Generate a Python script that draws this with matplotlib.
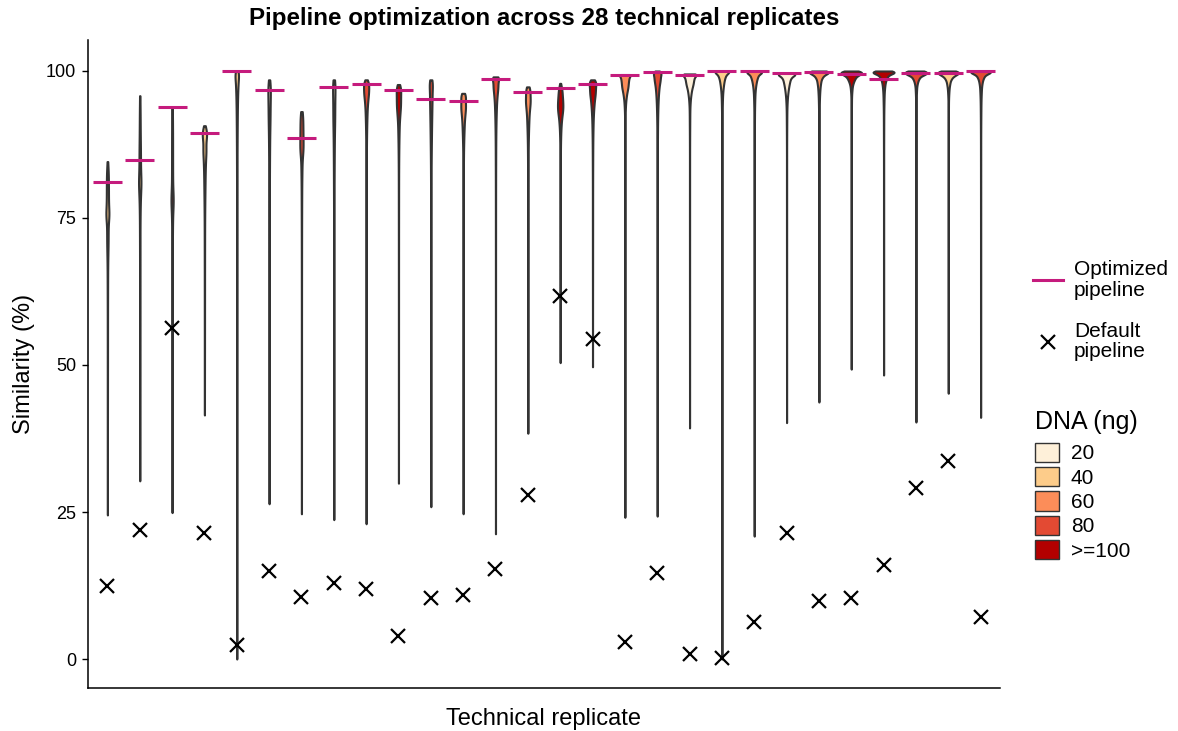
import numpy as np
import matplotlib
matplotlib.use("Agg")
import matplotlib.pyplot as plt
from matplotlib.lines import Line2D
from matplotlib.patches import Patch

plt.rcParams['font.family'] = ['Liberation Sans', 'DejaVu Sans']

# ---------------- data ----------------
replicates = list(range(1, 29))
optimized = [81.1, 84.8, 93.9, 89.5, 100.0, 96.7, 88.6, 97.3, 97.8, 96.7,
             95.2, 94.9, 98.6, 96.5, 97.1, 97.8, 99.4, 99.8, 99.3, 100.0,
             100.0, 99.6, 99.9, 99.5, 98.6, 99.7, 99.7, 100.0]
default = [12.4, 21.9, 56.3, 21.4, 2.3, 15.0, 10.5, 12.9, 11.9, 3.9,
           10.4, 10.9, 15.3, 27.9, 61.8, 54.4, 2.9, 14.6, 0.9, 0.2,
           6.3, 21.4, 9.9, 10.4, 16.0, 29.1, 33.7, 7.1]
sim_min = [24.5, 30.3, 24.9, 41.5, 0.0, 26.4, 24.7, 23.7, 23.0, 29.9,
           25.9, 24.7, 21.3, 38.4, 50.4, 49.7, 24.1, 24.3, 39.3, 0.0,
           20.9, 40.2, 43.7, 49.3, 48.3, 40.3, 45.2, 41.1]
sim_max = [84.6, 95.8, 93.8, 90.7, 100.0, 98.5, 93.1, 98.5, 98.5, 97.7,
           98.5, 96.2, 99.0, 97.3, 97.9, 98.5, 99.4, 100.0, 99.5, 100.0,
           100.0, 99.7, 100.0, 100.0, 100.0, 100.0, 100.0, 100.0]
dna_group = ['40', '40', '>=100', '40', '40', '20', '80', '20', '80', '>=100',
             '80', '60', '80', '60', '>=100', '>=100', '60', '80', '20', '40',
             '60', '20', '60', '>=100', '>=100', '80', '40', '80']
# representative similarity values (deciles) per replicate, read from the shapes
sim_samples = [
    [50, 62, 68, 71, 74, 75.5, 77, 79, 81, 83],
    [45, 60, 70, 76, 79, 81, 83, 86, 89, 93],
    [40, 55, 65, 72, 76, 78, 80, 84, 88, 92],
    [55, 68, 76, 80, 83, 85, 86.5, 88, 89, 90],
    [20, 45, 65, 78, 86, 91, 94.5, 96.8, 98.4, 99.5],
    [45, 62, 74, 81, 86, 89.5, 92, 94.2, 96, 97.6],
    [45, 65, 76, 82, 85, 86.5, 88, 89.5, 91, 92.5],
    [45, 62, 74, 81, 86, 89.5, 92, 94.3, 96.2, 97.8],
    [50, 70, 84, 89, 92, 94, 95.3, 96.3, 97.2, 98],
    [55, 75, 85, 89, 91.5, 93, 94.2, 95.3, 96.3, 97.2],
    [45, 65, 77, 84, 88, 91, 93.3, 95.2, 96.8, 98],
    [50, 72, 83, 87.5, 90, 91.8, 93, 94, 95, 95.8],
    [45, 70, 84, 90, 93, 95, 96.3, 97.3, 98.2, 98.8],
    [55, 75, 84, 88.5, 91, 92.8, 94, 95, 96, 96.9],
    [70, 83, 88.5, 90.8, 92.2, 93.2, 94.1, 95, 95.9, 96.9],
    [70, 84, 89.5, 92.3, 94, 95.2, 96.1, 96.9, 97.6, 98.2],
    [60, 88, 93.5, 95.3, 96.4, 97.2, 97.9, 98.5, 99, 99.35],
    [50, 78, 88, 92.5, 95, 96.6, 97.7, 98.5, 99.2, 99.7],
    [70, 90, 94.5, 96, 97, 97.7, 98.3, 98.8, 99.2, 99.45],
    [30, 70, 88, 94, 96.5, 97.8, 98.7, 99.3, 99.7, 99.95],
    [45, 75, 89, 94.5, 96.8, 98, 98.8, 99.35, 99.7, 99.95],
    [70, 90, 94.5, 96.2, 97.3, 98.1, 98.7, 99.1, 99.4, 99.6],
    [60, 86, 93.5, 96.3, 97.8, 98.7, 99.2, 99.55, 99.8, 99.95],
    [65, 92, 96.5, 97.8, 98.5, 99.0, 99.35, 99.6, 99.8, 99.95],
    [62, 88, 94.5, 97, 98.2, 98.9, 99.35, 99.65, 99.85, 99.97],
    [55, 90, 96, 97.8, 98.6, 99.1, 99.4, 99.65, 99.85, 99.97],
    [60, 90, 96, 97.6, 98.5, 99.0, 99.35, 99.6, 99.82, 99.96],
    [55, 80, 92, 96, 97.8, 98.7, 99.25, 99.6, 99.85, 99.97],
]
dna_levels = ['20', '40', '60', '80', '>=100']
dna_colors = ['#FEF0D9', '#FDCC8A', '#FC8D59', '#E34A33', '#B30000']
color_of = dict(zip(dna_levels, dna_colors))

OPT_COLOR = '#C51B7D'
EDGE = '#333333'


def violin_profile(samples, lo, hi, n=500):
    s = np.sort(np.asarray(samples, float))
    gaps = np.diff(s)
    left = np.concatenate([[gaps[0]], gaps])
    right = np.concatenate([gaps, [gaps[-1]]])
    bw = np.maximum(0.25, 0.8 * np.maximum(left, right))
    y = np.linspace(lo, hi, n)
    d = np.exp(-0.5 * ((y[:, None] - s[None, :]) / bw) ** 2) / (bw * np.sqrt(2 * np.pi))
    return y, d.mean(axis=1)


profiles = [violin_profile(s, lo, hi) for s, lo, hi in zip(sim_samples, sim_min, sim_max)]
max_dens = max(p[1].max() for p in profiles)
half_width = 0.33
scale = half_width / max_dens

fig = plt.figure(figsize=(11.78, 7.31), dpi=100)
ax = fig.add_axes([88 / 1178, 1 - 688 / 731, 912 / 1178, 648 / 731])

for xi, (yy, dd), grp in zip(replicates, profiles, dna_group):
    w = dd * scale
    ax.fill_betweenx(yy, xi - w, xi + w, facecolor=color_of[grp],
                     edgecolor=EDGE, linewidth=1.5, zorder=2)

ax.hlines(optimized, np.array(replicates) - 0.45, np.array(replicates) + 0.45,
          color=OPT_COLOR, linewidth=2.2, zorder=3)
ax.plot(replicates, default, ls='none', marker='x', color='black',
        markersize=10, markeredgewidth=1.6, zorder=4)

ax.set_xlim(0.4, 28.6)
ax.set_ylim(-4.93, 105.27)
ax.set_yticks([0, 25, 50, 75, 100])
ax.set_xticks([])
for side in ['top', 'right']:
    ax.spines[side].set_visible(False)
for side in ['left', 'bottom']:
    ax.spines[side].set_linewidth(1.1)
ax.tick_params(axis='y', length=4.5, width=1.0, labelsize=13, colors='black', pad=4)

ax.set_ylabel('Similarity (%)', fontsize=17, labelpad=8)
ax.set_xlabel('Technical replicate', fontsize=17, labelpad=14.5)
ax.set_title('Pipeline optimization across 28 technical replicates',
             fontsize=17.4, fontweight='bold', pad=10.5)

h1 = [Line2D([], [], color=OPT_COLOR, lw=2.2),
      Line2D([], [], ls='none', marker='x', color='black', markersize=10, markeredgewidth=1.6)]
leg1 = fig.legend(h1, ['Optimized\npipeline', 'Default\npipeline'],
                  loc='upper left', bbox_to_anchor=(1025 / 1178, 1 - 252 / 731),
                  frameon=False, fontsize=15, handlelength=1.4, handletextpad=0.55,
                  labelspacing=1.05, borderaxespad=0)
for t in leg1.get_texts():
    t.set_linespacing(1.1)

h2 = [Patch(facecolor=c, edgecolor=EDGE, linewidth=1.0) for c in dna_colors]
leg2 = fig.legend(h2, dna_levels, title='DNA (ng)', loc='upper left',
                  bbox_to_anchor=(1027 / 1178, 1 - 402 / 731), frameon=False,
                  fontsize=15, title_fontsize=18, handlelength=1.15, handleheight=1.05,
                  handletextpad=0.55, labelspacing=0.17, borderaxespad=0,
                  alignment='left')
leg2._legend_box.sep = 6.0

fig.savefig('out.png', dpi=100)
